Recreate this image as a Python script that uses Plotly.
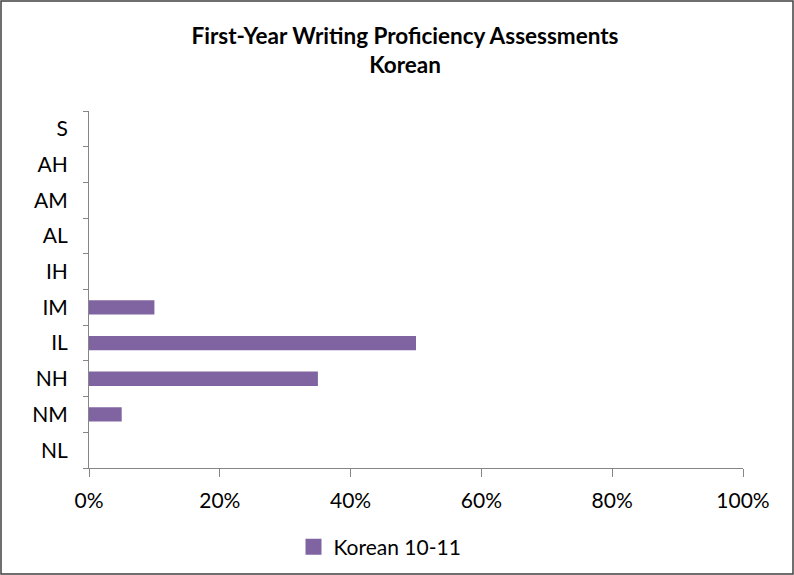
import plotly.graph_objects as go

categories = ["NL", "NM", "NH", "IL", "IM", "IH", "AL", "AM", "AH", "S"]
values = [0, 5, 35, 50, 10, 0, 0, 0, 0, 0]
series_name = "Korean 10-11"
x_ticks = [0, 20, 40, 60, 80, 100]
x_tick_labels = ["0%", "20%", "40%", "60%", "80%", "100%"]

W, H = 794, 575
ml, mr, mt, mb = 89, 51, 111, 107
pw, ph = W - ml - mr, H - mt - mb

bar_color = "#8064A2"
fig = go.Figure()
fig.add_trace(go.Bar(
    y=categories, x=values, orientation="h", name=series_name,
    marker=dict(color=bar_color, line=dict(width=0)),
    showlegend=False,
))
# legend entry with a square swatch like the reference
fig.add_trace(go.Scatter(
    x=[None], y=[None], mode="markers", name=series_name,
    marker=dict(symbol="square", size=16, color=bar_color),
    showlegend=True,
))

axis_col = "#868686"
font_family = "Lato, Carlito, Calibri, sans-serif"

fig.update_layout(
    width=W, height=H,
    margin=dict(l=ml, r=mr, t=mt, b=mb),
    paper_bgcolor="white", plot_bgcolor="white",
    font=dict(family=font_family, size=21, color="black"),
    title=dict(
        text="<b>First-Year Writing Proficiency Assessments<br>Korean</b>",
        x=405 / W, xanchor="center", xref="container",
        y=1 - 44 / H, yanchor="middle",
        font=dict(size=22.5, family=font_family, color="black"),
    ),
    bargap=0.6,
    xaxis=dict(
        range=[0, 100], tickvals=x_ticks, ticktext=x_tick_labels,
        showgrid=False, zeroline=False, showline=True, linecolor=axis_col, linewidth=1,
        ticks="outside", ticklen=8, tickcolor=axis_col, tickwidth=1,
        ticklabelstandoff=6, fixedrange=True,
    ),
    yaxis=dict(
        categoryorder="array", categoryarray=categories, range=[-0.5, 9.5],
        showgrid=False, zeroline=False, showline=True, linecolor=axis_col, linewidth=1,
        ticks="outside", ticklen=5, tickcolor=axis_col, tickwidth=1,
        tickson="boundaries", ticklabelstandoff=16, fixedrange=True,
    ),
    legend=dict(
        orientation="h", x=380 / W, xref="container", xanchor="center",
        y=1 - 547 / H, yref="container", yanchor="middle",
        font=dict(size=21), itemwidth=30,
    ),
    shapes=[dict(
        type="rect", xref="paper", yref="paper",
        x0=(1 - ml) / pw, x1=(W - 1 - ml) / pw,
        y0=-(mb - 1) / ph, y1=1 + (mt - 1) / ph,
        line=dict(color="#404040", width=1.5), fillcolor="rgba(0,0,0,0)", layer="below",
    )],
)

fig.write_html(
    "out.html",
    config={"displayModeBar": False},
    post_script="document.body.style.margin='0';document.body.style.overflow='hidden';",
)
